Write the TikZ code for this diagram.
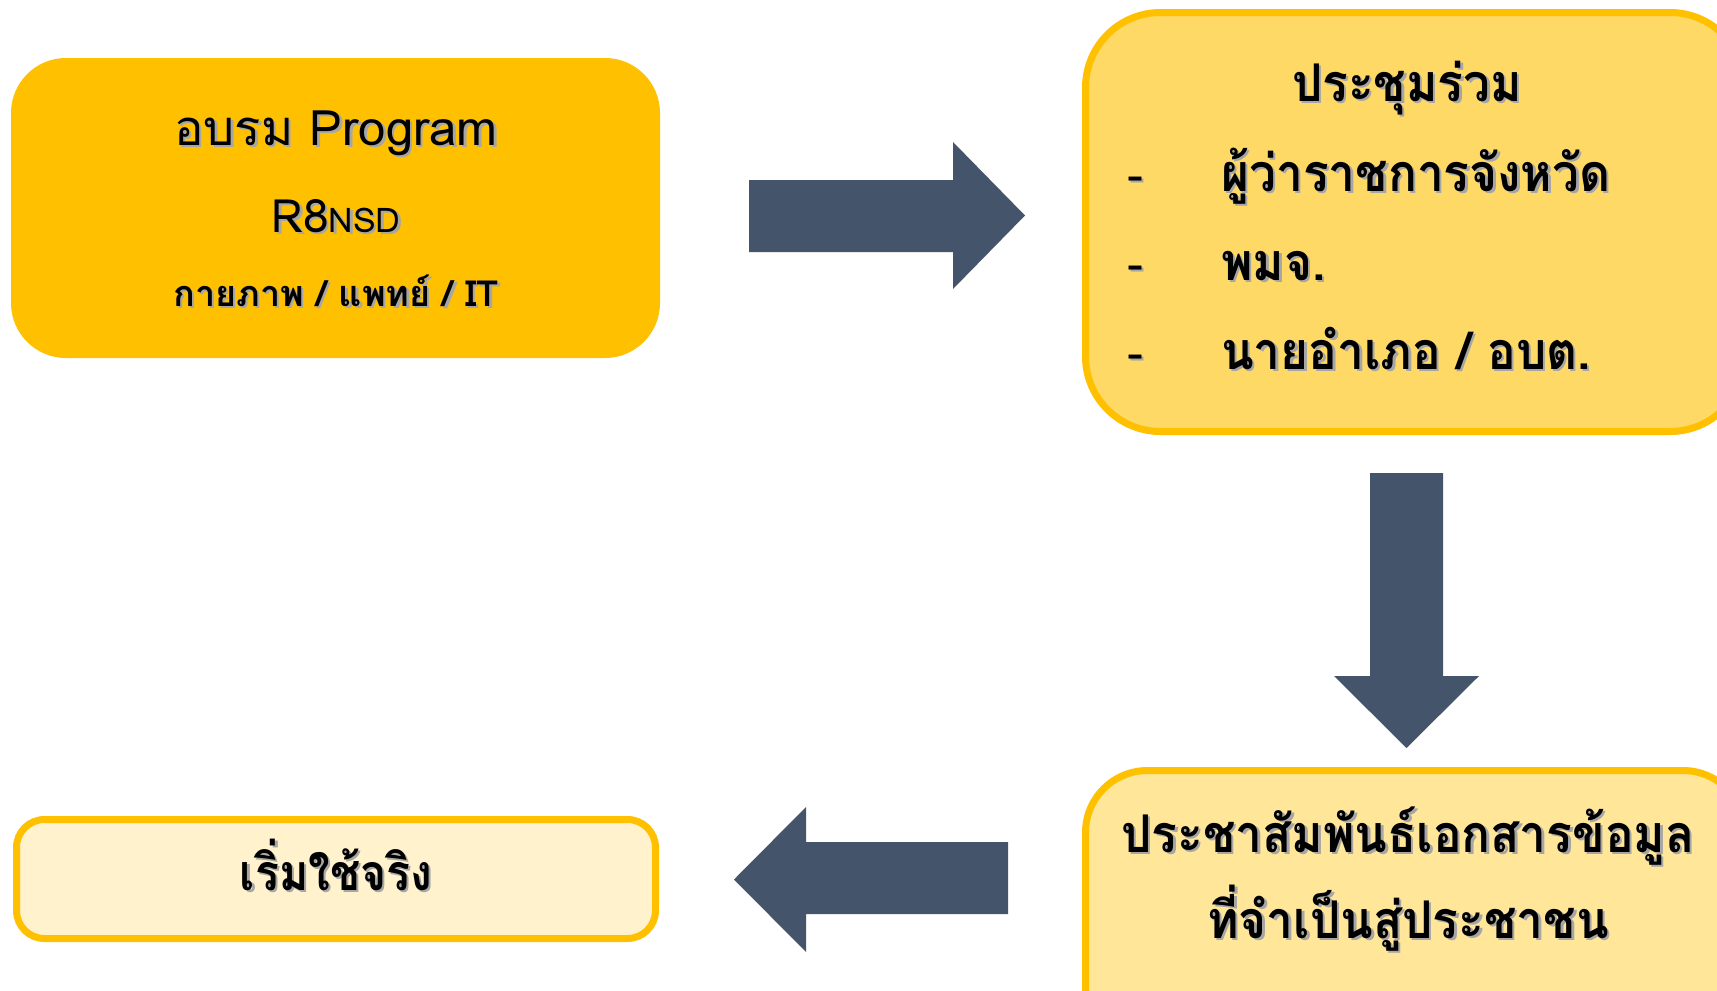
\documentclass[tikz,border=0pt]{standalone}
\usepackage{fontspec}
\setmainfont[Script=Thai]{Loma}
\newfontfamily\thc[Script=Thai,FakeStretch=0.92]{Loma}
\newfontfamily\thd[Script=Thai,FakeStretch=0.89]{Loma}
\definecolor{gold}{HTML}{FFC000}
\definecolor{goldA}{HTML}{FFD966}
\definecolor{goldB}{HTML}{FFE699}
\definecolor{goldC}{HTML}{FFF2CC}
\definecolor{slate}{HTML}{44546A}
\newcommand\shd[1]{\leavevmode\rlap{\kern2.5pt\raisebox{-2.5pt}{\textcolor{black!35}{#1}}}#1}
\tikzset{
  txt/.style={inner sep=0pt, anchor=base, text=black},
  arrowshape/.style={fill=slate, draw=none},
  big/.style={font=\fontsize{52}{56}\thc\bfseries},
}
\begin{document}
\begin{tikzpicture}[x=1pt,y=-1pt]
\useasboundingbox (0,0) rectangle (1717,991);
\clip (0,0) rectangle (1717,991);
\fill[white] (0,0) rectangle (1717,991);
% boxes
\fill[gold, rounded corners=55] (11,58) rectangle (660,358);
\draw[gold, fill=goldA, line width=7, rounded corners=75] (1085.5,12.5) rectangle (1745,431.5);
\draw[gold, fill=goldB, line width=7, rounded corners=62] (1085.5,770.5) rectangle (1745,1060);
\draw[gold, fill=goldC, line width=7, rounded corners=28] (16.5,819.5) rectangle (655.5,938.5);
% arrows
\fill[arrowshape] (749,180) -- (953,180) -- (953,142) -- (1025,215.5) -- (953,289) -- (953,252) -- (749,252) -- cycle;
\fill[arrowshape] (1370,473) -- (1443,473) -- (1443,676) -- (1479,676) -- (1406.5,748) -- (1334,676) -- (1370,676) -- cycle;
\fill[arrowshape] (1008,842) -- (806,842) -- (806,807) -- (734,879.5) -- (806,952) -- (806,914) -- (1008,914) -- cycle;
% box 1 text
\node[txt, font=\fontsize{49}{52}\selectfont] (t1a) at (336,145) {\shd{อบรม Program}};
\node[txt, font=\fontsize{46}{50}\selectfont] (t1b) at (336,232) {\shd{R8{\fontsize{34}{40}\selectfont NSD}}};
\node[txt, font=\fontsize{36}{40}\selectfont\bfseries] (t1c) at (336,306) {\shd{กายภาพ / แพทย์ / IT}};
% box 2 text
\node[txt, big] (t2a) at (1407,101) {\shd{ประชุมร่วม}};
\node[txt, anchor=base west, font=\fontsize{48}{52}\selectfont] (d1) at (1127,191) {\shd{-}};
\node[txt, anchor=base west, font=\fontsize{48}{52}\selectfont] (d2) at (1127,280) {\shd{-}};
\node[txt, anchor=base west, font=\fontsize{48}{52}\selectfont] (d3) at (1127,369) {\shd{-}};
\node[txt, anchor=base west, big] (i1) at (1221,191) {\shd{ผู้ว่าราชการจังหวัด}};
\node[txt, anchor=base west, big] (i2) at (1221,280) {\shd{พมจ.}};
\node[txt, anchor=base west, big] (i3) at (1221,369) {\shd{นายอำเภอ / อบต.}};
% box 3 text
\node[txt, big] (t3a) at (1408,852) {\shd{ประชาสัมพันธ์เอกสารข้อมูล}};
\node[txt, big] (t3b) at (1408,938) {\shd{ที่จำเป็นสู่ประชาชน}};
% box 4 text
\node[txt, font=\fontsize{50}{54}\thd\bfseries] (t4) at (336,890) {\shd{เริ่มใช้จริง}};
\end{tikzpicture}
\end{document}
